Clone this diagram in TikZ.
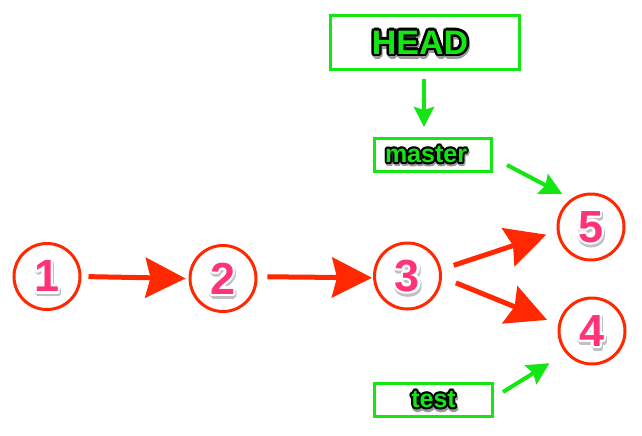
\documentclass[tikz,border=0pt]{standalone}
\usepackage{fontspec}
\setmainfont{Liberation Sans}
\usetikzlibrary{arrows.meta}
\definecolor{cred}{RGB}{255,40,0}
\definecolor{cpink}{RGB}{255,51,119}
\definecolor{cgreen}{RGB}{20,230,20}
\newcommand\olt[5]{% #1 outline, #2 fill, #3 radius, #4 shadow, #5 text
  \begingroup
  \foreach \ang in {0,30,...,330}{%
    \pgfmathsetlengthmacro\dx{#3*cos(\ang)+1pt}%
    \pgfmathsetlengthmacro\dy{#3*sin(\ang)-2.5pt}%
    \rlap{\hspace*{\dx}\raisebox{\dy}[0pt][0pt]{\color{#4}#5}}}%
  \foreach \ang in {0,30,...,330}{%
    \pgfmathsetlengthmacro\dx{#3*cos(\ang)}%
    \pgfmathsetlengthmacro\dy{#3*sin(\ang)}%
    \rlap{\hspace*{\dx}\raisebox{\dy}[0pt][0pt]{\color{#1}#5}}}%
  \hbox{\color{#2}#5}%
  \endgroup}
\tikzset{
  commit/.style={circle, draw=cred, line width=3pt, minimum size=66pt, inner sep=0pt,
    font=\fontsize{45}{45}\selectfont\bfseries},
  refbox/.style={draw=cgreen, line width=3pt, fill=white, inner sep=0pt,
    font=\fontsize{25}{25}\selectfont\bfseries},
  redarrow/.style={draw=cred, line width=5pt,
    -{Stealth[length=40pt,width=40pt,inset=5pt]}},
  greenarrow/.style={draw=cgreen, line width=4pt,
    -{Stealth[length=22pt,width=22pt,inset=3pt]}},
}
\newcommand\digit[1]{\olt{white}{cpink}{2.5pt}{black!25}{#1}}
\newcommand\gtext[1]{\olt{black}{cgreen}{2pt}{black!40}{#1}}
\begin{document}
\begin{tikzpicture}[x=1pt,y=-1pt]
\useasboundingbox[fill=white] (0,0) rectangle (642,436);

\node[commit] (c1) at (47,276.5) {\digit{1}};
\node[commit] (c2) at (223,278.5) {\digit{2}};
\node[commit] (c3) at (407.5,276) {\digit{3}};
\node[commit] (c5) at (591,227) {\digit{5}};
\node[commit] (c4) at (592,331) {\digit{4}};

\node[refbox, minimum width=189pt, minimum height=54pt,
  font=\fontsize{34}{34}\selectfont\bfseries] (head) at (425,42.5)
  {\olt{black}{cgreen}{2.5pt}{black!40}{HEAD}\hspace*{10pt}};
\node[refbox, minimum width=117pt, minimum height=33pt] (master) at (433,155)
  {\raisebox{1.5pt}{\gtext{master}}\hspace*{14pt}};
\node[refbox, minimum width=118pt, minimum height=33pt] (test) at (433.5,400)
  {\raisebox{1pt}{\gtext{test}}};

\draw[redarrow, shorten <=7pt, shorten >=3pt] (c1.0) -- (c2.180);
\draw[redarrow, shorten <=10pt, shorten >=1pt] (c2.3) -- (c3.183);
\draw[redarrow, shorten <=13pt, shorten >=11pt] (c3.11) -- (c5.187);
\draw[redarrow, shorten <=15pt, shorten >=12pt] (c3.-2) -- (c4.169);

\draw[greenarrow, -{Stealth[length=20pt,width=20pt,inset=3pt]},
  shorten <=8pt, shorten >=10pt] ([xshift=-1pt]head.south) -- ([xshift=-9pt]master.north);
\coordinate (mstart) at ([xshift=14pt,yshift=-10pt]master.east);
\draw[greenarrow, shorten >=10pt] (mstart) -- (c5.125);
\coordinate (tstart) at ([xshift=9pt,yshift=8pt]test.east);
\draw[greenarrow, shorten >=19pt] (tstart) -- (c4.220);
\end{tikzpicture}
\end{document}
